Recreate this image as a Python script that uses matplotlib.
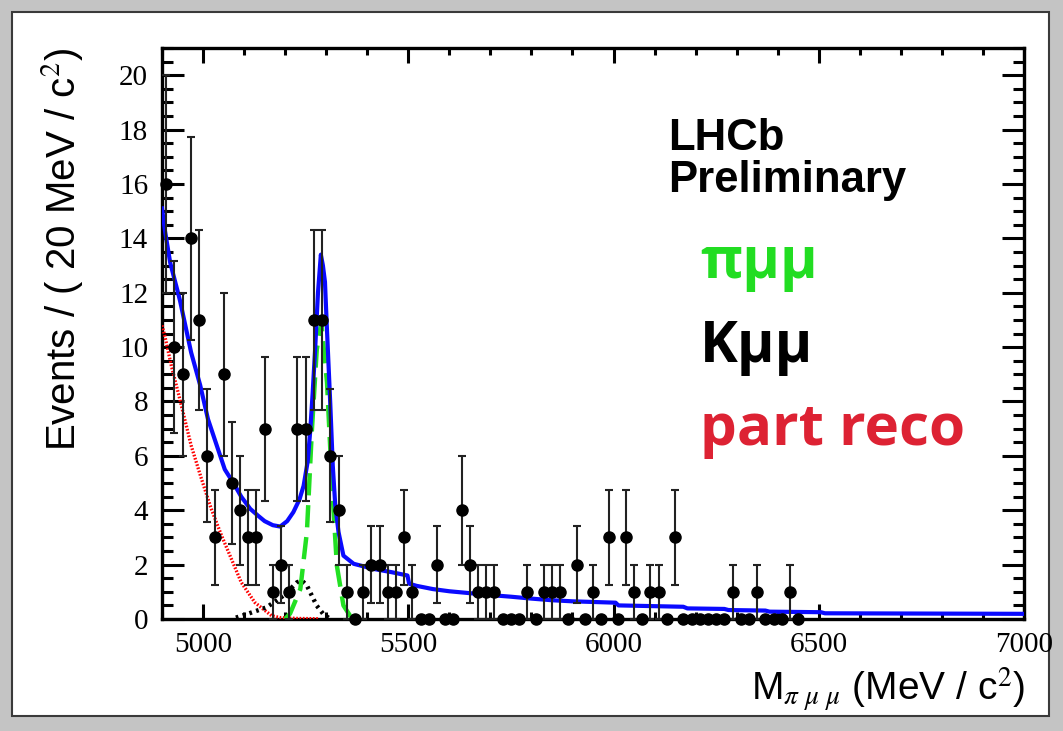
import numpy as np
import matplotlib
matplotlib.use("Agg")
import matplotlib.pyplot as plt
from matplotlib.patches import Rectangle
from matplotlib.ticker import MultipleLocator

plt.rcParams["mathtext.fontset"] = "stix"

# data: 20 MeV bins, centres from 4910 to 6450
counts = [16, 10, 9, 14, 11, 6, 3, 9, 5, 4,
          3, 3, 7, 1, 2, 1, 7, 7, 11, 11,
          6, 4, 1, 0, 1, 2, 2, 1, 1, 3,
          1, 0, 0, 2, 0, 0, 4, 2, 1, 1,
          1, 0, 0, 0, 1, 0, 1, 1, 1, 0,
          2, 0, 1, 0, 3, 0, 3, 1, 0, 1,
          1, 0, 3, 0, 0, 0, 0, 0, 0, 1,
          0, 0, 1, 0, 0, 0, 1, 0]
bin_lo = 4900
bin_w = 20

# total fit (blue)
fit_x = [4900, 4907, 4920, 4939, 4944, 4971, 4993, 5012, 5033, 5053,
         5074, 5093, 5115, 5134, 5150, 5170, 5188, 5205, 5220, 5235,
         5245, 5255, 5261, 5267, 5273, 5280, 5287, 5292, 5297, 5302,
         5310, 5316, 5322, 5330, 5342, 5367, 5416, 5460, 5498, 5502,
         5520, 5560, 5600, 5650, 5700, 5750, 5800, 5850, 5900, 6005,
         6012, 6170, 6180, 6270, 6280, 6370, 6380, 6505, 6515, 7000]
fit_y = [15.1, 14.3, 13.1, 12.0, 11.7, 9.8, 8.6, 7.35, 6.4, 5.5,
         5.0, 4.5, 4.05, 3.8, 3.6, 3.45, 3.4, 3.6, 3.93, 4.4,
         4.9, 5.8, 6.9, 8.3, 9.9, 12.0, 13.4, 13.0, 12.4, 10.6,
         7.9, 5.65, 4.2, 3.2, 2.33, 2.03, 1.84, 1.72, 1.6, 1.3,
         1.22, 1.1, 1.02, 0.95, 0.88, 0.82, 0.75, 0.69, 0.65, 0.6,
         0.5, 0.45, 0.39, 0.37, 0.33, 0.31, 0.27, 0.25, 0.21, 0.19]

# pi mu mu signal (green)
pimumu_x = [5200, 5212, 5237, 5253, 5265, 5277, 5288, 5302, 5314, 5326, 5342, 5359, 5370]
pimumu_y = [0.0, 0.2, 1.1, 3.2, 6.9, 9.9, 10.9, 8.7, 5.0, 1.96, 0.5, 0.1, 0.0]

# K mu mu misid (black)
kmumu_x = [5080, 5107, 5155, 5196, 5229, 5241, 5253, 5265, 5277, 5293, 5310]
kmumu_y = [0.05, 0.18, 0.43, 0.86, 1.35, 1.41, 1.23, 0.86, 0.49, 0.18, 0.0]

# partially reconstructed (red)
reco_x = [4900, 4907, 4923, 4939, 4955, 4971, 4996, 5020, 5045, 5069,
          5093, 5126, 5167, 5188, 5230, 5280]
reco_y = [10.8, 10.4, 9.3, 8.35, 7.37, 6.38, 5.16, 4.05, 3.07, 2.21,
          1.35, 0.61, 0.12, 0.05, 0.02, 0.01]

W, H = 1063, 731
fig = plt.figure(figsize=(W / 100, H / 100), dpi=100, facecolor="#c4c4c4")
fig.patches.append(Rectangle((12 / W, 1 - 716 / H), (1049 - 12) / W, (716 - 12) / H,
                             transform=fig.transFigure, facecolor="white",
                             edgecolor="#3a3a3a", lw=1.5, zorder=-10))

ax = fig.add_axes([162 / W, 1 - 619 / H, (1024 - 162) / W, (619 - 48) / H])
ax.set_facecolor("none")
ax.set_xlim(4900, 7000)
ax.set_ylim(0, 21.0)

centres = bin_lo + bin_w / 2 + bin_w * np.arange(len(counts))
counts = np.array(counts, dtype=float)
errs = np.sqrt(counts)

ax.plot(reco_x, reco_y, color="red", lw=2.4, ls=(0, (0.5, 0.5)), zorder=3)
ax.plot(kmumu_x, kmumu_y, color="black", lw=3.2, ls=(0, (0.6, 1.0)), zorder=3)
ax.plot(pimumu_x, pimumu_y, color="#22e022", lw=3.2, ls=(0, (5, 2.2)), zorder=3)
ax.plot(fit_x, fit_y, color="#0a0aff", lw=3.0, zorder=4)

ax.hlines(counts, centres - bin_w / 2, centres + bin_w / 2, color="black", lw=1.6, zorder=5)
ax.errorbar(centres, counts, yerr=errs, fmt="o", color="black", ms=8,
            ecolor="#222222", elinewidth=1.5, capsize=3, capthick=1.5, zorder=6,
            clip_on=False)

# ROOT-like axes
for s in ax.spines.values():
    s.set_linewidth(2.4)
ax.xaxis.set_major_locator(MultipleLocator(500))
ax.xaxis.set_minor_locator(MultipleLocator(100))
ax.yaxis.set_major_locator(MultipleLocator(2))
ax.yaxis.set_minor_locator(MultipleLocator(0.5))
ax.tick_params(axis="both", which="both", direction="in", top=True, right=True, width=2.2)
ax.tick_params(axis="x", which="major", length=11, pad=9)
ax.tick_params(axis="x", which="minor", length=5)
ax.tick_params(axis="y", which="major", length=16, pad=10)
ax.tick_params(axis="y", which="minor", length=8)
for lab in ax.get_xticklabels() + ax.get_yticklabels():
    lab.set_fontfamily("Liberation Serif")
    lab.set_fontsize(21)

fig.text(62 / W, 1 - 250 / H, "Events / ( 20 MeV / c$^{2}$)", rotation=90,
         ha="center", va="center", fontsize=29, family="Liberation Sans")
fig.text(1025 / W, 1 - 690 / H, r"M$_{\pi\ \mu\ \mu}$ (MeV / c$^{2}$)",
         ha="right", va="center", fontsize=28, family="Liberation Sans")

tx = 668 / W
fig.text(tx, 1 - 150 / H, "LHCb", fontsize=31.5, weight="bold", family="Liberation Sans")
fig.text(tx, 1 - 192 / H, "Preliminary", fontsize=31.5, weight="bold", family="Liberation Sans")
fig.text(700 / W, 1 - 278 / H, "πμμ", fontsize=41, weight="bold", family="Open Sans",
         color="#22dd22")
fig.text(700 / W, 1 - 362 / H, "Kμμ", fontsize=41, weight="bold", family="Open Sans",
         color="black")
fig.text(700 / W, 1 - 445 / H, "part reco", fontsize=42, weight="bold", family="Open Sans",
         color="#dd2233")

fig.savefig("out.png", dpi=100, facecolor=fig.get_facecolor())
